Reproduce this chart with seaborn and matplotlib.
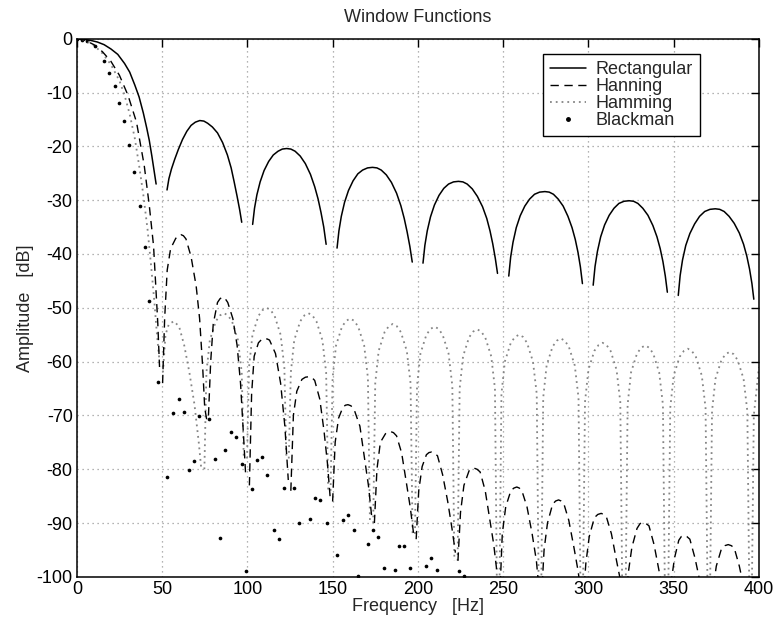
import numpy as np
import pandas as pd
import seaborn as sns
import matplotlib.pyplot as plt
from matplotlib.lines import Line2D

# Spectrum lobes, one list per lobe (frequency in Hz, amplitude in dB)
rect_f = [
    [0, 4, 8, 12, 16, 20, 24, 28, 31, 34, 36.5, 39, 41, 42.5, 44, 45.3, 46.5],
    [52.9, 54, 55.5, 57.4, 59.5, 62, 64.5, 67, 69.5, 72.1, 74.5, 76.7, 79.5, 82.5, 85.5, 88.3, 90.5, 92.2, 94, 95.5, 96.7],
    [103.1, 104.2, 105.6, 107.5, 109.8, 112.5, 115.2, 118, 120.5, 123, 125.5, 128, 131, 134, 137, 139.5, 141.5, 143.2, 144.8, 146.2],
    [152.6, 153.7, 155.1, 157, 159.3, 162, 164.8, 167.6, 170.5, 173.4, 176, 178.5, 181.5, 184.5, 187.5, 190, 192, 193.7, 195.3, 196.7],
    [203, 204.1, 205.5, 207.4, 209.7, 212.4, 215.2, 218, 220.9, 223.8, 226.4, 228.9, 231.9, 234.9, 237.9, 240.4, 242.3, 243.9, 245.4, 246.7],
    [253.3, 254.4, 255.8, 257.7, 260, 262.7, 265.5, 268.4, 271.4, 274.5, 277, 279.5, 282.3, 285.2, 288, 290.4, 292.3, 293.9, 295.3, 296.5],
    [302.8, 303.9, 305.3, 307.2, 309.5, 312.2, 315, 317.9, 320.9, 323.9, 326.5, 329, 331.9, 334.9, 337.8, 340.2, 342.1, 343.7, 345.1, 346.3],
    [352.7, 353.8, 355.2, 357.1, 359.5, 362.3, 365.2, 368.2, 371.3, 374.4, 377, 379.6, 382.5, 385.5, 388.5, 391, 392.9, 394.5, 395.9, 397],
]
rect_db = [
    [0, -0.1, -0.3, -0.6, -1.1, -1.9, -2.9, -4.6, -6.2, -8.6, -10.8, -13.8, -16.6, -18.9, -21.8, -24.5, -27.0],
    [-28.1, -26.0, -24.2, -22.4, -20.6, -18.7, -17.2, -16.1, -15.5, -15.2, -15.3, -15.7, -16.4, -17.5, -19.3, -21.6, -24.0, -26.5, -29.3, -31.8, -34.1],
    [-34.5, -31.5, -29.0, -26.6, -24.5, -22.8, -21.6, -20.9, -20.5, -20.4, -20.5, -20.9, -21.8, -23.2, -25.2, -27.5, -29.8, -32.3, -35.0, -38.2],
    [-38.9, -35.7, -33.0, -30.4, -28.2, -26.4, -25.1, -24.4, -24.0, -23.9, -24.0, -24.4, -25.3, -26.7, -28.7, -31.0, -33.4, -35.9, -38.6, -41.5],
    [-41.7, -38.4, -35.7, -33.1, -30.9, -29.1, -27.8, -27.0, -26.6, -26.5, -26.6, -27.0, -27.9, -29.3, -31.2, -33.4, -35.7, -38.1, -40.8, -43.6],
    [-44.1, -40.6, -37.8, -35.1, -32.9, -31.1, -29.8, -28.9, -28.5, -28.4, -28.5, -28.9, -29.8, -31.1, -33.0, -35.1, -37.3, -39.7, -42.4, -45.5],
    [-45.8, -42.3, -39.5, -36.8, -34.6, -32.8, -31.5, -30.6, -30.2, -30.1, -30.2, -30.6, -31.5, -32.8, -34.7, -36.8, -39.0, -41.4, -44.1, -47.1],
    [-47.7, -44.0, -41.1, -38.4, -36.2, -34.4, -33.0, -32.1, -31.7, -31.6, -31.7, -32.1, -33.0, -34.3, -36.1, -38.2, -40.4, -42.8, -45.5, -48.4],
]

hann_f = [
    [0, 5, 10, 15, 20, 25, 30, 35, 39.5, 42.5, 45, 46.3, 47.5, 48.5],
    [50.3, 51.5, 53, 55, 58, 59.5, 61, 62.5, 64, 67, 70, 72, 73.8, 75, 76.3],
    [77.2, 78.5, 80, 82.5, 84, 85.5, 87, 88.5, 91.5, 94, 96, 97.8, 99],
    [101.2, 102.5, 104, 106.5, 108.3, 110, 111.7, 113, 116.5, 119.5, 122, 124],
    [125.5, 127, 129, 132, 134, 136, 138, 139.5, 142.5, 145, 147, 148.5],
    [150, 151.5, 153.5, 156, 157.5, 159, 160.7, 162.5, 166, 168.5, 171, 173],
    [174.5, 176, 178, 181, 182.5, 184, 185.7, 187.5, 190.5, 193, 195.5, 197.5],
    [199, 200.5, 202.5, 205, 206.5, 208, 209.7, 211.5, 214.5, 217.5, 220, 222],
    [223.5, 225, 227, 230, 231.5, 233, 234.7, 236.5, 239.5, 242, 244.5, 246.5],
    [248, 249.5, 251.5, 254.5, 256.3, 258, 259.5, 261, 264, 267, 269.5, 271.5],
    [272.5, 274, 276, 279, 280.8, 282.5, 284, 285.5, 288.5, 291.5, 294, 296],
    [297, 298.5, 300.5, 303.5, 305.5, 307.5, 309, 310.5, 313.5, 316.5, 319, 321],
    [322, 323.5, 325.5, 328.5, 330.3, 332, 333.8, 335.5, 338.5, 341.5, 344, 346],
    [347, 348.5, 350.5, 353, 354.5, 356, 357.7, 359.5, 362.5, 365.5, 368, 370.5],
    [371.5, 373, 375, 378, 380, 382, 383.8, 385.5, 388.5, 391.5, 394, 395.5],
]
hann_db = [
    [0, -0.3, -1.1, -2.4, -4.2, -6.8, -10.5, -15.5, -23.5, -31, -38.5, -46, -53, -61],
    [-64, -52, -43, -39, -37.1, -36.6, -36.4, -36.6, -37.2, -40.5, -46, -52, -61, -68.6, -71],
    [-70, -60, -53, -49, -48.3, -48, -48.3, -49, -52, -57, -64, -74, -81],
    [-83, -66, -59, -56.5, -55.9, -55.7, -55.8, -56, -58.5, -64, -72, -82],
    [-84, -70, -65.5, -63.3, -62.9, -62.8, -63, -63.5, -67, -73, -79, -85],
    [-86, -75, -70.5, -68.5, -68.1, -68, -68.2, -68.8, -72, -77.5, -83, -89],
    [-90, -80, -75, -73.4, -73.1, -73, -73.2, -73.8, -77, -82, -87, -92],
    [-93, -84, -79.5, -77.3, -76.9, -76.8, -77, -77.5, -81, -86, -91, -95.5],
    [-97, -88, -83, -80.3, -79.9, -79.8, -80, -80.5, -84, -89, -94, -99.5],
    [-104, -92, -87, -84, -83.5, -83.3, -83.5, -84, -87, -92, -97, -104],
    [-104, -95, -90, -86.5, -85.9, -85.7, -85.9, -86.3, -89.5, -94.5, -99, -104],
    [-104, -97.5, -92.5, -89, -88.4, -88.2, -88.4, -88.8, -92, -97, -101, -104],
    [-104, -99, -94.5, -91, -90.1, -89.9, -90.1, -90.5, -94, -99, -103, -104],
    [-104, -101, -96.5, -93.2, -92.5, -92.3, -92.5, -93, -96.5, -101, -104, -104],
    [-104, -102.5, -98, -94.8, -94.2, -94, -94.2, -94.6, -98, -102.5, -104, -104],
]

hamm_f = [
    [0, 5, 10, 15, 20, 25, 28, 31, 34, 36.5, 39, 41.5, 43.5, 45.5, 47, 48.5],
    [50.5, 52, 54, 57, 60, 63, 66, 69, 71.5, 73],
    [74.8, 76, 78, 81.5, 84, 86.3, 88.6, 91, 94.5, 96.7, 97.9],
    [99.8, 101, 103, 106.5, 109, 111.3, 113.6, 116, 119.5, 121.7, 122.9],
    [124.3, 125.5, 127.5, 131, 133.5, 135.8, 138.1, 140.5, 144, 146.2, 147.4],
    [148.8, 150, 152, 155.5, 158, 160.3, 162.6, 165, 168.5, 170.7, 171.9],
    [173.8, 175, 177, 180.5, 183, 185.3, 187.6, 190, 193.5, 195.7, 196.9],
    [198.3, 199.5, 201.5, 205, 207.5, 209.8, 212.1, 214.5, 218, 220.2, 221.4],
    [223.3, 224.5, 226.5, 230, 232.5, 234.8, 237.1, 239.5, 243, 245.2, 246.4],
    [247.8, 249, 251, 254.5, 257, 259.3, 261.6, 264, 267.5, 269.7, 270.9],
    [272.3, 273.5, 275.5, 279, 281.5, 283.8, 286.1, 288.5, 292, 294.2, 295.4],
    [296.8, 298, 300, 303.5, 306, 308.3, 310.6, 313, 316.5, 318.7, 319.9],
    [321.8, 323, 325, 328.5, 331, 333.3, 335.6, 338, 341.5, 343.7, 344.9],
    [346.8, 348, 350, 353.5, 356, 358.3, 360.6, 363, 366.5, 368.7, 369.9],
    [371.3, 372.5, 374.5, 378, 380.5, 382.8, 385.1, 387.5, 391, 393.2, 394.4],
    [395.8, 397, 399, 400],
]
hamm_db = [
    [0, -0.3, -1.2, -2.7, -4.8, -7.8, -10.5, -14, -18.5, -23.5, -29, -35.5, -42, -49, -55, -60],
    [-62, -55, -53, -52.5, -53.5, -57, -62, -68, -75, -80],
    [-80, -62, -56, -52.5, -51.4, -51, -51.4, -52.5, -56, -62, -78],
    [-78, -61, -55, -51.5, -50.4, -50, -50.4, -51.5, -55, -61, -78],
    [-78, -62, -56, -52.5, -51.4, -51, -51.4, -52.5, -56, -62, -84],
    [-84, -63, -57, -53.5, -52.4, -52, -52.4, -53.5, -57, -63, -90],
    [-90, -64, -58, -54.5, -53.4, -53, -53.4, -54.5, -58, -64, -92],
    [-92, -64.5, -58.5, -55, -53.9, -53.5, -53.9, -55, -58.5, -64.5, -97],
    [-97, -65, -59, -55.5, -54.4, -54, -54.4, -55.5, -59, -65, -104],
    [-104, -66, -60, -56.5, -55.4, -55, -55.4, -56.5, -60, -66, -104],
    [-104, -66.7, -60.7, -57.2, -56.1, -55.7, -56.1, -57.2, -60.7, -66.7, -104],
    [-104, -67.5, -61.5, -58, -56.9, -56.5, -56.9, -58, -61.5, -67.5, -104],
    [-104, -68, -62, -58.5, -57.4, -57, -57.4, -58.5, -62, -68, -104],
    [-104, -68.6, -62.6, -59.1, -58, -57.6, -58, -59.1, -62.6, -68.6, -104],
    [-104, -69.2, -63.2, -59.7, -58.6, -58.2, -58.6, -59.7, -63.2, -69.2, -104],
    [-104, -70, -64, -61],
]

black_f = [0, 3, 5.8, 10.5, 15.7, 18.6, 22.1, 25, 27.9, 30.8, 33.8, 36.8, 39.8, 42.3,
           47.4, 52.7, 56.4, 59.9, 62.8, 65.5, 68.8, 71.5, 77.3, 81, 84, 87, 90.4, 93.3,
           96.9, 99.5, 102.5, 105.9, 108.8, 111.6, 115.4, 118.3, 121.3, 127.1, 130.3,
           136.6, 139.9, 142.8, 146.5, 152.7, 155.9, 158.8, 162.4, 165, 171, 173.6,
           176.6, 180.3, 186.6, 188.7, 191.6, 195.6, 205, 207.7, 211.3, 224, 227]
black_db = [0, -0.2, -0.5, -1.4, -4.2, -6.4, -8.8, -12, -15.3, -19.8, -24.7, -31, -38.7, -48.7,
            -63.7, -81.4, -69.5, -66.9, -69.3, -80.2, -78.5, -70.1, -70.6, -78.1, -92.8, -76.4,
            -73.1, -74, -79, -98.9, -83.6, -78.2, -77.8, -81, -91.2, -93, -83.4, -83.4, -89.9,
            -89.3, -85.4, -85.7, -90, -95.9, -89.4, -88.5, -91.2, -99.8, -93.8, -91.2,
            -92.5, -98.3, -98.8, -94.3, -94.3, -98.3, -97.9, -96.4, -98.7, -99, -99.8]

x_ticks = [0, 50, 100, 150, 200, 250, 300, 350, 400]
y_ticks = [0, -10, -20, -30, -40, -50, -60, -70, -80, -90, -100]


def lobes_frame(fs, dbs):
    rows = []
    for i, (f, d) in enumerate(zip(fs, dbs)):
        for a, b in zip(f, d):
            rows.append((i, a, b))
    return pd.DataFrame(rows, columns=["lobe", "f", "db"])


sns.set_theme(style="white")
plt.rcParams["font.family"] = ["Liberation Sans", "DejaVu Sans"]
plt.rcParams["axes.unicode_minus"] = False

fig = plt.figure(figsize=(7.76, 6.25), dpi=100)
ax = fig.add_axes([0.099, 0.077, 0.879, 0.861])

hamm_col = "#858585"
sns.lineplot(data=lobes_frame(hamm_f, hamm_db), x="f", y="db", units="lobe",
             estimator=None, sort=False, color=hamm_col, lw=1.3,
             linestyle=(0, (1, 2.2)), ax=ax, legend=False)
sns.lineplot(data=lobes_frame(hann_f, hann_db), x="f", y="db", units="lobe",
             estimator=None, sort=False, color="black", lw=1.0,
             linestyle=(0, (6, 4)), ax=ax, legend=False)
sns.lineplot(data=lobes_frame(rect_f, rect_db), x="f", y="db", units="lobe",
             estimator=None, sort=False, color="black", lw=1.1, ax=ax, legend=False)
sns.scatterplot(x=black_f, y=black_db, color="black", s=7, linewidth=0, ax=ax, legend=False)

ax.set_xlim(0, 400)
ax.set_ylim(-100, 0)
ax.set_xticks(x_ticks)
ax.set_yticks(y_ticks)
ax.grid(True, color="#9a9a9a", linestyle=(0, (1, 3)), linewidth=0.9)
for s in ax.spines.values():
    s.set_color("black")
    s.set_linewidth(1.1)
ax.tick_params(direction="in", length=6, width=1, top=True, right=True,
               labelsize=13, colors="black", pad=3)

ax.set_title("Window Functions", fontsize=13, pad=12)
ax.set_xlabel("Frequency   [Hz]", fontsize=13, labelpad=0)
ax.set_ylabel("Amplitude   [dB]", fontsize=13, labelpad=2)

handles = [
    Line2D([], [], color="black", lw=1.1),
    Line2D([], [], color="black", lw=1.0, linestyle=(0, (6, 4))),
    Line2D([], [], color=hamm_col, lw=1.3, linestyle=(0, (1, 2.2))),
    Line2D([], [], color="black", lw=0, marker=".", markersize=5),
]
labels = ["Rectangular", "Hanning", "Hamming", "Blackman"]
leg = ax.legend(handles, labels, loc="upper left", bbox_to_anchor=(0.683, 0.972),
                fontsize=13, frameon=True, fancybox=False, framealpha=1,
                edgecolor="black", labelspacing=0.0, handlelength=2.0,
                handletextpad=0.5, borderpad=0.4, borderaxespad=0)
leg.get_frame().set_linewidth(1.0)

fig.savefig("out.png", dpi=100, facecolor="white")
